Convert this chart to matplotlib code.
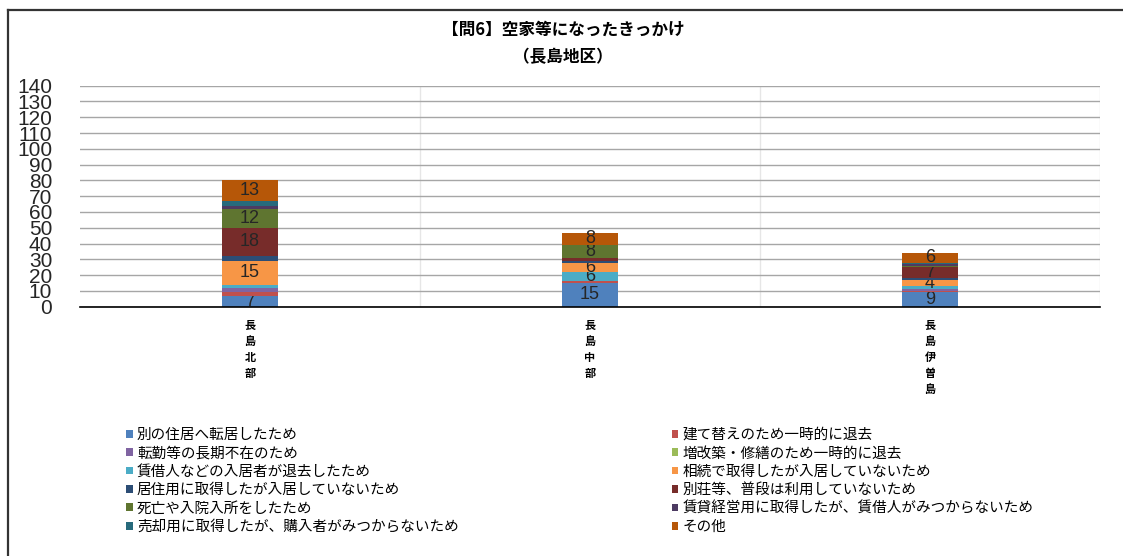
import matplotlib
matplotlib.use("Agg")
import matplotlib.pyplot as plt
from matplotlib.lines import Line2D

plt.rcParams['font.family'] = ['Noto Sans CJK JP', 'DejaVu Sans']

regions = ["長島北部", "長島中部", "長島伊曽島"]

reasons = [
    "別の住居へ転居したため",
    "建て替えのため一時的に退去",
    "転勤等の長期不在のため",
    "増改築・修繕のため一時的に退去",
    "賃借人などの入居者が退去したため",
    "相続で取得したが入居していないため",
    "居住用に取得したが入居していないため",
    "別荘等、普段は利用していないため",
    "死亡や入院入所をしたため",
    "賃貸経営用に取得したが、賃借人がみつからないため",
    "売却用に取得したが、購入者がみつからないため",
    "その他",
]

v_move = [7, 15, 9]
v_rebuild = [2, 1, 1]
v_transfer = [3, 0, 1]
v_renov = [0, 0, 0]
v_tenant = [2, 6, 2]
v_inherit = [15, 6, 4]
v_resid = [3, 1, 1]
v_villa = [18, 2, 7]
v_death = [12, 8, 1]
v_rental = [2, 0, 1]
v_sale = [3, 0, 1]
v_other = [13, 8, 6]

series = [v_move, v_rebuild, v_transfer, v_renov, v_tenant, v_inherit,
          v_resid, v_villa, v_death, v_rental, v_sale, v_other]

colors = ["#4F81BD", "#C0504D", "#8064A2", "#9BBB59", "#4BACC6", "#F79646",
          "#2C4D75", "#772C2A", "#5F7530", "#4D3B62", "#276A7C", "#B65708"]

fig = plt.figure(figsize=(11.23, 5.56), dpi=100)
ax = fig.add_axes([80/1123, 249.3/556, 1020/1123, 221/556])

x = list(range(len(regions)))
bottom = [0, 0, 0]
handles = []
for name, vals, col in zip(reasons, series, colors):
    bars = ax.bar(x, vals, 0.165, bottom=bottom, color=col, label=name, zorder=3)
    labels = [str(v) if v >= 4 else "" for v in vals]
    ax.bar_label(bars, labels=labels, label_type="center", fontsize=13,
                 color="#262626", family="Liberation Sans")
    handles.append(bars)
    bottom = [b + v for b, v in zip(bottom, vals)]

ax.set_xlim(-0.5, 2.5)
ax.set_ylim(0, 140)
ax.set_yticks(range(0, 141, 10))
ax.yaxis.grid(True, color="#A6A6A6", linewidth=1, zorder=0)
ax.set_xticks([0.5, 1.5, 2.5], minor=True)
ax.xaxis.grid(True, which="minor", color="#E6E6E6", linewidth=1, zorder=0)
ax.set_xticks(x)
ax.set_xticklabels(["\n".join(r) for r in regions], fontsize=8,
                   fontweight="bold", linespacing=1.3, va="top")
ax.tick_params(axis="x", which="both", length=0, pad=9)
ax.tick_params(axis="y", length=0, pad=20, labelsize=15, labelcolor="#262626")
for t in ax.get_yticklabels():
    t.set_family("Liberation Sans")
for s in ["top", "right", "left"]:
    ax.spines[s].set_visible(False)
ax.spines["bottom"].set_color("black")
ax.spines["bottom"].set_linewidth(1.2)
ax.spines["bottom"].set_zorder(4)

fig.text(563/1123, 1 - 30/556, "【問6】空家等になったきっかけ", ha="center", va="center",
         fontsize=12, fontweight="bold")
fig.text(563/1123, 1 - 57/556, "（長島地区）", ha="center", va="center",
         fontsize=12, fontweight="bold")

# legend reads row by row, matplotlib fills column by column
order = list(range(0, 12, 2)) + list(range(1, 12, 2))
fig.legend([handles[i] for i in order], [reasons[i] for i in order],
           ncol=2, loc="upper left", bbox_to_anchor=(126/1123, 1 - 428/556),
           frameon=False, fontsize=10.5, handlelength=0.45, handleheight=0.45,
           handletextpad=0.3, labelspacing=0.3, columnspacing=14.6,
           borderpad=0, borderaxespad=0)

fig.add_artist(Line2D([8/1123, 8/1123], [0, 1 - 10/556], transform=fig.transFigure,
                      color="#333333", linewidth=1.6))
fig.add_artist(Line2D([8/1123, 1], [1 - 10/556, 1 - 10/556], transform=fig.transFigure,
                      color="#333333", linewidth=1.6))

fig.savefig("out.png", dpi=100)
